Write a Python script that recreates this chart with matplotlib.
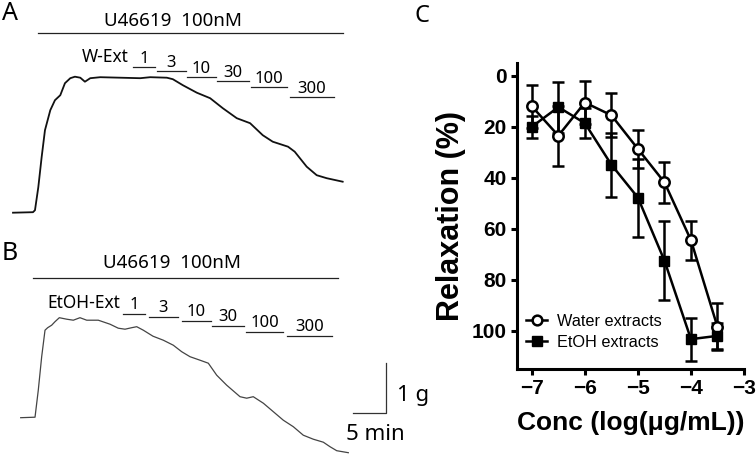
import numpy as np
import matplotlib.pyplot as plt
from matplotlib.lines import Line2D

# ---- Panel A / B traces (time in min, tension in g relative to baseline) ----
trace_a_t = [0, 3.0, 3.3, 3.8, 4.3, 4.8, 5.6, 6.3, 7.1, 7.8, 8.6, 9.3, 10.1, 10.8, 11.6,
             13.1, 16.1, 19.1, 20.6, 23.1, 24.0, 25.5, 27.6, 29.6, 31.5, 33.6, 35.6,
             37.5, 39.0, 41.3, 42.3, 44.1, 45.6, 47.1, 49.5]
trace_a_g = [0, 0.01, 0.05, 0.51, 1.11, 1.65, 2.05, 2.25, 2.35, 2.59, 2.69, 2.72, 2.70,
             2.62, 2.69, 2.71, 2.70, 2.69, 2.71, 2.70, 2.67, 2.55, 2.40, 2.29, 2.09, 1.89,
             1.79, 1.55, 1.42, 1.32, 1.22, 0.92, 0.75, 0.69, 0.62]

trace_b_t = [0, 2.15, 2.64, 3.15, 3.65, 4.05, 4.65, 5.15, 5.80, 6.91, 7.90, 8.90, 9.91,
             11.65, 13.41, 14.65, 15.66, 16.67, 17.42, 18.41, 19.86, 21.41, 22.91, 24.17,
             25.42, 26.92, 28.17, 29.43, 30.93, 32.93, 33.93, 34.92, 36.43, 37.93, 39.43,
             40.93, 42.43, 43.93, 45.44, 46.44, 47.45, 49.19]
trace_b_g = [0, 0.01, 0.55, 1.22, 1.75, 1.80, 1.85, 1.92, 2.00, 1.97, 1.95, 2.00, 1.95,
             1.95, 1.87, 1.79, 1.77, 1.80, 1.82, 1.75, 1.63, 1.55, 1.45, 1.32, 1.22, 1.15,
             1.09, 0.85, 0.65, 0.42, 0.39, 0.42, 0.29, 0.12, -0.05, -0.18, -0.35, -0.43,
             -0.49, -0.58, -0.66, -0.70]

doses = ['1', '3', '10', '30', '100', '300']
dose_a_start = [18.0, 21.6, 26.1, 30.6, 35.7, 41.6]
dose_a_end = [21.3, 26.0, 30.5, 35.4, 41.1, 48.2]
dose_a_y = [2.92, 2.83, 2.72, 2.63, 2.52, 2.32]
dose_b_start = [15.4, 19.3, 24.2, 28.7, 33.8, 40.0]
dose_b_end = [18.7, 23.6, 28.6, 33.5, 39.4, 46.7]
dose_b_y = [2.07, 2.01, 1.94, 1.83, 1.72, 1.63]

# ---- Panel C: concentration-response ----
conc = [-7, -6.5, -6, -5.5, -5, -4.5, -4, -3.5]
water = [12.0, 23.5, 10.5, 15.5, 28.7, 41.8, 64.5, 98.5]
water_err = [8.5, 11.8, 8.3, 8.7, 7.4, 8.0, 7.7, 9.2]
etoh = [20.0, 12.3, 18.6, 34.9, 47.8, 72.5, 103.3, 102.0]
etoh_err = [4.4, 10.0, 6.0, 12.5, 15.3, 15.5, 8.4, 5.0]

W, H = 756, 458
PX_MIN, PX_G = 6.66, 50.0
trace_font = 'Noto Sans'

fig = plt.figure(figsize=(W / 100, H / 100), dpi=100)


def trace_axes(top_px, bot_px, x0_px, base_px, width_px):
    ax = fig.add_axes([0, 1 - bot_px / H, width_px / W, (bot_px - top_px) / H])
    ax.set_xlim(-x0_px / PX_MIN, (width_px - x0_px) / PX_MIN)
    ax.set_ylim((base_px - bot_px) / PX_G, (base_px - top_px) / PX_G)
    ax.axis('off')
    return ax


# Panel A
axA = trace_axes(0, 230, 13, 212.7, 360)
axA.plot(trace_a_t, trace_a_g, color='#111111', lw=1.3)
axA.plot([3.75, 49.5], [3.59, 3.59], color='#222222', lw=0.9)
axA.text(24.0, 3.83, 'U46619  100nM', ha='center', va='center', fontsize=13.5, family=trace_font)
axA.text(17.3, dose_a_y[0] + 0.1, 'W-Ext', ha='right', va='baseline', fontsize=12.5, family=trace_font)
for lab, s, e, y in zip(doses, dose_a_start, dose_a_end, dose_a_y):
    axA.plot([s, e], [y, y], color='#222222', lw=0.9)
    axA.text((s + e) / 2, y + 0.08, lab, ha='center', va='baseline', fontsize=12, family=trace_font)

# Panel B
axB = trace_axes(230, 458, 20.7, 417.7, 420)
axB.plot(trace_b_t, trace_b_g, color='#444444', lw=0.9)
axB.plot([1.85, 47.6], [2.80, 2.80], color='#222222', lw=0.9)
axB.text(22.7, 3.09, 'U46619  100nM', ha='center', va='center', fontsize=13.5, family=trace_font)
axB.text(15.0, dose_b_y[0] + 0.12, 'EtOH-Ext', ha='right', va='baseline', fontsize=12.5, family=trace_font)
for lab, s, e, y in zip(doses, dose_b_start, dose_b_end, dose_b_y):
    axB.plot([s, e], [y, y], color='#222222', lw=0.9)
    axB.text((s + e) / 2, y + 0.1, lab, ha='center', va='baseline', fontsize=12, family=trace_font)

# scale bar: 5 min x 1 g
axB.plot([49.85, 54.85, 54.85], [0.1, 0.1, 1.1], color='#333333', lw=0.9)
axB.text(56.5, 0.45, '1 g', ha='left', va='center', fontsize=16, family=trace_font)
axB.text(53.2, -0.33, '5 min', ha='center', va='center', fontsize=16, family=trace_font)

# panel letters
fig.text(10 / W, 1 - 14 / H, 'A', ha='center', va='center', fontsize=18, family=trace_font)
fig.text(10 / W, 1 - 253 / H, 'B', ha='center', va='center', fontsize=18, family=trace_font)
fig.text(422 / W, 1 - 16 / H, 'C', ha='center', va='center', fontsize=17, family=trace_font)

# Panel C
axC = fig.add_axes([517 / W, 1 - 369 / H, 227 / W, (369 - 63) / H])
axC.errorbar(conc, water, yerr=water_err, color='black', lw=1.8, elinewidth=1.8,
             capsize=4.5, capthick=1.8, marker='o', ms=7.5, mfc='white', mec='black', mew=1.8,
             zorder=3)
axC.errorbar(conc, etoh, yerr=etoh_err, color='black', lw=1.8, elinewidth=1.8,
             capsize=4.5, capthick=1.8, marker='s', ms=7.5, mfc='black', mec='black',
             zorder=3)
axC.set_xlim(-7.28, -3)
axC.set_ylim(115, -5)
axC.set_xticks([-7, -6, -5, -4, -3])
axC.set_yticks([0, 20, 40, 60, 80, 100])
for sp in ['top', 'right']:
    axC.spines[sp].set_visible(False)
for sp in ['left', 'bottom']:
    axC.spines[sp].set_linewidth(2.2)
axC.tick_params(direction='out', length=4.5, width=2.2, labelsize=15, pad=3)
for lab in axC.get_xticklabels() + axC.get_yticklabels():
    lab.set_fontweight('bold')
    lab.set_family('Liberation Sans')
axC.set_ylabel('Relaxation (%)', fontsize=22, fontweight='bold', family='Liberation Sans', labelpad=4)
axC.set_xlabel('Conc (log(\u03bcg/mL))', fontsize=19, fontweight='bold', family='Liberation Sans', labelpad=9)

handles = [Line2D([], [], color='black', lw=1.8, marker='o', ms=7, mfc='white', mew=1.8),
           Line2D([], [], color='black', lw=1.8, marker='s', ms=7)]
axC.legend(handles, ['Water extracts', 'EtOH extracts'], loc='lower left',
           bbox_to_anchor=(0.04, 0.063), frameon=False,
           prop={'family': 'Liberation Sans', 'size': 11.7},
           handlelength=1.3, handletextpad=0.6, labelspacing=0.35, borderpad=0, borderaxespad=0)

fig.savefig('out.png', dpi=100)
